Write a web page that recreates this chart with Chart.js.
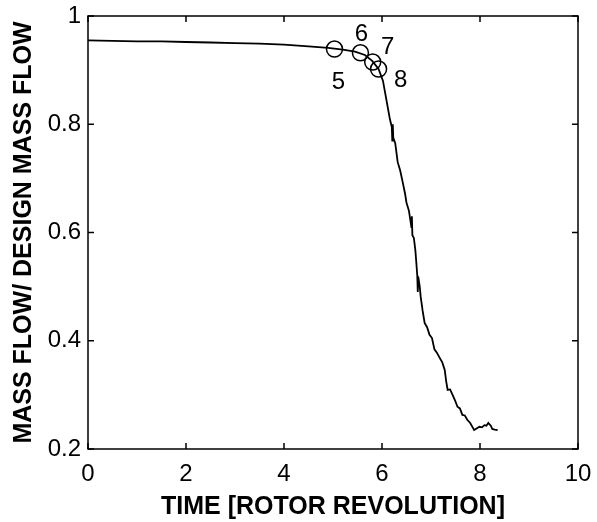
<!DOCTYPE html>
<html lang="en">
<head>
  <meta charset="UTF-8">
  <title>Mass flow vs time</title>
  <script src="https://cdn.jsdelivr.net/npm/chart.js"></script>
  <style>
    body { margin: 0; background: #fff; }
    canvas { display: block; }
  </style>
</head>
<body>

  <canvas id="flowChart" width="597" height="522"></canvas>

  <script>
    // time in rotor revolutions, mass flow / design mass flow
    const timeRev = [0, 0.5, 1, 1.5, 2, 2.5, 3, 3.5, 4, 4.5, 4.9, 5.2, 5.45, 5.65, 5.8, 5.93,
      6.02, 6.09, 6.16, 6.20, 6.21, 6.22, 6.23, 6.27, 6.32, 6.37, 6.42, 6.47, 6.50, 6.55,
      6.60, 6.61, 6.62, 6.65, 6.68, 6.70, 6.72, 6.73, 6.74, 6.77, 6.79, 6.83, 6.87, 6.92,
      6.97, 7.02, 7.07, 7.12, 7.18, 7.23, 7.28, 7.31, 7.34, 7.39, 7.44, 7.49, 7.54, 7.59,
      7.64, 7.69, 7.74, 7.80, 7.85, 7.88, 7.93, 7.99, 8.04, 8.09, 8.13, 8.17, 8.19, 8.22,
      8.25, 8.30, 8.36];
    const massFlow = [0.955, 0.954, 0.953, 0.953, 0.952, 0.951, 0.950, 0.949, 0.947, 0.944,
      0.941, 0.938, 0.934, 0.928, 0.917, 0.902,
      0.880, 0.845, 0.810, 0.795, 0.770, 0.800, 0.775, 0.765, 0.730, 0.715, 0.694, 0.672, 0.655, 0.640,
      0.610, 0.630, 0.595, 0.590, 0.568, 0.545, 0.520, 0.490, 0.518, 0.500, 0.481, 0.455, 0.433, 0.425,
      0.411, 0.405, 0.384, 0.378, 0.368, 0.360, 0.346, 0.325, 0.309, 0.310, 0.300, 0.290, 0.278, 0.275,
      0.263, 0.262, 0.254, 0.248, 0.240, 0.235, 0.238, 0.241, 0.240, 0.244, 0.243, 0.248, 0.246, 0.243,
      0.237, 0.236, 0.235];

    // marked instants
    const markLabels = ['5', '6', '7', '8'];
    const markTime = [5.03, 5.56, 5.81, 5.93];
    const markFlow = [0.939, 0.932, 0.915, 0.902];

    const xTicks = [0, 2, 4, 6, 8, 10];
    const yTicks = [0.2, 0.4, 0.6, 0.8, 1];

    const FONT = '"Liberation Sans", Arial, Helvetica, sans-serif';

    // label offsets from the circle centre, in px
    const labelOffset = [[4, 33], [1, -18], [15, -15], [22, 11]];

    const frameAndTicks = {
      id: 'frameAndTicks',
      afterDraw(chart) {
        const { ctx, chartArea: a, scales } = chart;
        const len = 6;
        ctx.save();
        ctx.strokeStyle = '#000';
        ctx.lineWidth = 1.5;
        ctx.strokeRect(a.left, a.top, a.right - a.left, a.bottom - a.top);
        ctx.beginPath();
        xTicks.forEach(v => {
          const px = scales.x.getPixelForValue(v);
          ctx.moveTo(px, a.bottom); ctx.lineTo(px, a.bottom - len);
          ctx.moveTo(px, a.top); ctx.lineTo(px, a.top + len);
        });
        yTicks.forEach(v => {
          const py = scales.y.getPixelForValue(v);
          ctx.moveTo(a.left, py); ctx.lineTo(a.left + len, py);
          ctx.moveTo(a.right, py); ctx.lineTo(a.right - len, py);
        });
        ctx.stroke();

        // circle labels
        const meta = chart.getDatasetMeta(1);
        ctx.fillStyle = '#000';
        ctx.font = '24px ' + FONT;
        ctx.textAlign = 'center';
        ctx.textBaseline = 'middle';
        meta.data.forEach((pt, i) => {
          ctx.fillText(markLabels[i], pt.x + labelOffset[i][0], pt.y + labelOffset[i][1]);
        });
        ctx.restore();
      }
    };

    const ctx = document.getElementById('flowChart').getContext('2d');
    new Chart(ctx, {
      type: 'scatter',
      data: {
        datasets: [
          {
            data: timeRev.map((t, i) => ({ x: t, y: massFlow[i] })),
            showLine: true,
            borderColor: '#000',
            borderWidth: 1.8,
            pointRadius: 0,
            tension: 0
          },
          {
            data: markTime.map((t, i) => ({ x: t, y: markFlow[i] })),
            showLine: false,
            pointRadius: 8,
            pointStyle: 'circle',
            borderColor: '#000',
            borderWidth: 1.5,
            backgroundColor: 'rgba(0,0,0,0)'
          }
        ]
      },
      options: {
        responsive: false,
        animation: false,
        devicePixelRatio: 1,
        layout: { padding: { top: 16, right: 19, left: 0, bottom: 0 } },
        plugins: { legend: { display: false }, tooltip: { enabled: false } },
        scales: {
          x: {
            type: 'linear',
            min: 0, max: 10,
            afterFit: s => { s.height = 73; s.paddingLeft = 0; s.paddingRight = 0; },
            afterBuildTicks: s => { s.ticks = xTicks.map(v => ({ value: v })); },
            grid: { display: false, drawTicks: false },
            border: { display: false },
            ticks: { color: '#000', padding: 11, maxRotation: 0, font: { family: FONT, size: 24 } },
            title: {
              display: true, text: 'TIME [ROTOR REVOLUTION]', color: '#000',
              font: { family: FONT, size: 25, weight: 'bold' },
              padding: { top: 0, bottom: 0 }
            }
          },
          y: {
            type: 'linear',
            min: 0.2, max: 1,
            afterFit: s => { s.width = 88; s.paddingTop = 0; s.paddingBottom = 0; },
            afterBuildTicks: s => { s.ticks = yTicks.map(v => ({ value: v })); },
            grid: { display: false, drawTicks: false },
            border: { display: false },
            ticks: { color: '#000', padding: 7, font: { family: FONT, size: 24 },
              callback: v => String(v) },
            title: {
              display: true, text: 'MASS FLOW/ DESIGN MASS FLOW', color: '#000',
              font: { family: FONT, size: 25, weight: 'bold' },
              padding: { top: 9, bottom: 0 }
            }
          }
        }
      },
      plugins: [frameAndTicks]
    });
  </script>

</body>
</html>
